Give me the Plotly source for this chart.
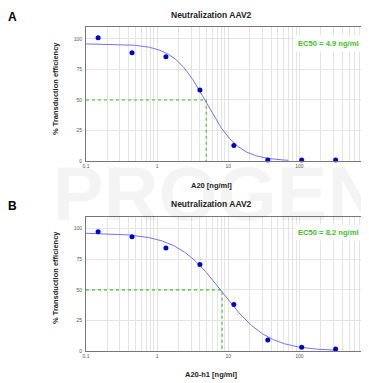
import numpy as np
import plotly.graph_objects as go

# ---------------- data ----------------
conc = [0.148, 0.444, 1.33, 4.0, 12.0, 36.0, 108.0, 324.0]          # ng/ml
eff_a = [101.0, 88.8, 85.5, 58.2, 12.6, 0.8, 0.8, 0.8]             # % (A20)
eff_b = [97.5, 93.4, 84.2, 70.8, 38.0, 9.0, 3.0, 1.6]              # % (A20-h1)

# 4PL fit parameters
fit_a = dict(top=96.0, bottom=0.0, ec50=4.9, hill=1.9, xmax=70.0)
fit_b = dict(top=96.5, bottom=0.0, ec50=8.2, hill=1.35, xmax=330.0)

titles = ["Neutralization AAV2", "Neutralization AAV2"]
xtitles = ["A20 [ng/ml]", "A20-h1 [ng/ml]"]
panel_labels = ["A", "B"]
ec50_labels = ["EC50 = 4.9 ng/ml", "EC50 = 8.2 ng/ml"]
xtick_vals = [0.1, 1, 10, 100]
xtick_text = ["0.1", "1", "10", "100"]
ytick_vals = [0, 25, 50, 75, 100]

# the page body has an 8px margin: figure is placed at (8, 8)
OFF = 8
W, H = 369 - OFF, 383 - OFF
BLUE = "#0000cc"
CURVE = "#7373ec"
GREEN = "#3fbf2a"
GRID = "#e4e4e4"
FONT = "Liberation Sans, Arial, sans-serif"

XR = [-1.0, 2.98]
YR = [0, 109.8]

def px_y(p):
    return 1 - (p - OFF) / H

def px_x(p):
    return (p - OFF) / W

xdom = [px_x(86), 1.0]
ydoms = [[px_y(161), px_y(27)], [px_y(351), px_y(216.7)]]

minor_vals = [k * 10.0 ** e for e in range(-1, 3) for k in range(2, 10)]

fig = go.Figure()
fits = [fit_a, fit_b]
effs = [eff_a, eff_b]

for i in range(2):
    xa = "x" if i == 0 else "x2"
    ya = "y" if i == 0 else "y2"
    f = fits[i]
    xc = np.logspace(-1, np.log10(f["xmax"]), 300)
    yc = f["bottom"] + (f["top"] - f["bottom"]) / (1 + (xc / f["ec50"]) ** f["hill"])
    fig.add_trace(go.Scatter(x=[0.1, f["ec50"], f["ec50"]], y=[50, 50, 0], mode="lines",
                             line=dict(color=GREEN, width=1.1, dash="dot"),
                             xaxis=xa, yaxis=ya, showlegend=False, hoverinfo="skip"))
    fig.add_trace(go.Scatter(x=xc, y=yc, mode="lines", line=dict(color=CURVE, width=1),
                             xaxis=xa, yaxis=ya, showlegend=False))
    fig.add_trace(go.Scatter(x=conc, y=effs[i], mode="markers",
                             marker=dict(color=BLUE, size=5),
                             xaxis=xa, yaxis=ya, showlegend=False, cliponaxis=False))

axis_common_x = dict(type="log", range=XR, domain=xdom, tickvals=xtick_vals, ticktext=xtick_text,
                     showgrid=True, gridcolor=GRID, gridwidth=1,
                     minor=dict(tickvals=minor_vals, showgrid=True, gridcolor=GRID, gridwidth=1, ticks=""),
                     showline=True, linecolor="#777777", linewidth=1, mirror=True,
                     ticks="", tickfont=dict(size=5, color="#555555", family=FONT),
                     ticklabelstandoff=0, zeroline=False, automargin=False)
axis_common_y = dict(range=YR, tickvals=ytick_vals, showgrid=True, gridcolor=GRID, gridwidth=1,
                     showline=True, linecolor="#777777", linewidth=1, mirror=False,
                     ticks="", tickfont=dict(size=5, color="#555555", family=FONT),
                     ticklabelstandoff=2, zeroline=False, automargin=False)

fig.update_layout(
    width=W, height=H, margin=dict(l=0, r=0, t=0, b=0, autoexpand=False),
    paper_bgcolor="white", plot_bgcolor="white",
    font=dict(family=FONT),
    xaxis=dict(**axis_common_x, anchor="y"),
    yaxis=dict(**axis_common_y, domain=ydoms[0], anchor="x"),
    xaxis2=dict(**axis_common_x, anchor="y2"),
    yaxis2=dict(**axis_common_y, domain=ydoms[1], anchor="x2"),
)

def A(text, x, y, size, color="#222222", **kw):
    d = dict(text=text, x=px_x(x), y=px_y(y), xref="paper", yref="paper", showarrow=False,
             xanchor="center", yanchor="middle", font=dict(size=size, color=color, family=FONT))
    d.update(kw)
    return d

ann = []
ann.append(A("<b>PROGEN</b>", 217, 193, 76, color="rgba(0,0,0,0.045)"))
offs = [0, 189]
for i in range(2):
    o = offs[i]
    ann.append(A("<b>%s</b>" % panel_labels[i], 12.5, 17 + o, 12, color="black"))
    ann.append(A("<b>%s</b>" % titles[i], 211.5, 15 + o, 8.5))
    ann.append(A("<b>% Transduction efficiency</b>", 55.5, 88.5 + o, 7.5, textangle=-90))
    ann.append(A("<b>%s</b>" % xtitles[i], 211.7, 185.5 + o, 7.5))
    ann.append(A("<b>%s</b>" % ec50_labels[i], 328.7, 43.3 + o, 7.6, color=GREEN,
                 bgcolor="white", borderpad=3))
    ann.append(A("1000", 370, 164 + o, 5, color="#555555"))
fig.update_layout(annotations=ann)

fig.write_html("out.html")
